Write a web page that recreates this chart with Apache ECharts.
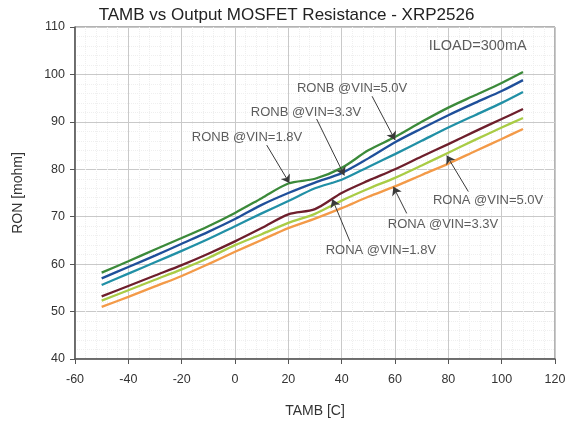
<!DOCTYPE html>
<html>
<head>
<meta charset="utf-8">
<script src="https://cdn.jsdelivr.net/npm/echarts@6/dist/echarts.min.js"></script>
<style>
  html, body { margin: 0; padding: 0; background: #fff; }
  #chart { width: 573px; height: 423px; }
</style>
</head>
<body>
<div id="chart"></div>
<script>
// temperature points (C)
var tamb = [-50, -40, -30, -20, -10, 0, 10, 20, 30, 40, 50, 60, 70, 80, 90, 100, 108];

// RON values in mohm
var ronB50 = [58.2, 60.6, 63.1, 65.5, 68.0, 70.8, 73.9, 77.0, 78.0, 80.3, 84.0, 86.8, 90.0, 93.0, 95.6, 98.2, 100.5];
var ronB33 = [57.0, 59.4, 61.8, 64.3, 66.8, 69.5, 72.5, 75.0, 77.2, 79.2, 82.3, 85.7, 88.6, 91.4, 94.0, 96.5, 98.8];
var ronB18 = [55.6, 58.0, 60.4, 62.8, 65.3, 68.0, 70.7, 73.3, 76.0, 77.8, 80.5, 83.2, 86.0, 88.8, 91.4, 94.0, 96.3];
var ronA50 = [53.2, 55.4, 57.6, 59.8, 62.2, 64.8, 67.6, 70.5, 71.6, 75.0, 77.6, 80.0, 82.7, 85.3, 88.0, 90.6, 92.7];
var ronA33 = [52.3, 54.5, 56.7, 58.9, 61.3, 64.0, 66.3, 68.7, 70.6, 73.4, 75.9, 78.2, 80.8, 83.5, 86.2, 88.8, 90.8];
var ronA18 = [51.0, 53.1, 55.3, 57.5, 60.0, 62.6, 65.1, 67.6, 69.6, 71.8, 74.2, 76.4, 78.8, 81.2, 83.8, 86.4, 88.5];

// annotation text + position, arrow start/end (data coords)
var noteText = ["RONB @VIN=5.0V", "RONB @VIN=3.3V", "RONB @VIN=1.8V", "RONA @VIN=5.0V", "RONA @VIN=3.3V", "RONA @VIN=1.8V", "ILOAD=300mA"];
var notePos = [[43.9, 97.0], [26.6, 91.9], [4.5, 86.7], [94.9, 73.4], [78.0, 68.4], [54.7, 62.8], [91.0, 106.0]];
var arrowFrom = [[51.4, 95.4], [30.6, 90.6], [11.9, 85.1], [87.5, 75.3], [64.4, 70.7], [43.1, 64.8]];
var arrowTo = [[60.0, 86.2], [41.0, 78.7], [20.4, 77.1], [79.4, 82.9], [59.4, 76.3], [36.5, 73.7]];

var seriesDefs = [
    { name: "RONB @VIN=5.0V", data: ronB50, color: "#3b8a3a" },
    { name: "RONB @VIN=3.3V", data: ronB33, color: "#1f4f9a" },
    { name: "RONB @VIN=1.8V", data: ronB18, color: "#2190a6" },
    { name: "RONA @VIN=5.0V", data: ronA50, color: "#6e1f2c" },
    { name: "RONA @VIN=3.3V", data: ronA33, color: "#a9cc45" },
    { name: "RONA @VIN=1.8V", data: ronA18, color: "#f39a48" }
];

var font = "'Liberation Sans', Arial, sans-serif";

var series = seriesDefs.map(function (s) {
    return {
        name: s.name,
        type: "line",
        smooth: 0.3,
        symbol: "none",
        data: tamb.map(function (t, i) { return [t, s.data[i]]; }),
        lineStyle: { color: s.color, width: 2.3 },
        itemStyle: { color: s.color },
        z: 3
    };
});

var noteData = notePos.map(function (p, i) { return [p[0], p[1], noteText[i]]; });
// bigger text for the load note
noteData[6] = { value: noteData[6], label: { fontSize: 14.5 } };

series.push({
    name: "notes",
    type: "scatter",
    symbolSize: 1,
    itemStyle: { color: "rgba(0,0,0,0)" },
    data: noteData,
    label: {
        show: true,
        position: "inside",
        color: "#333",
        fontFamily: font,
        fontSize: 13,
        formatter: function (p) { return p.value[2]; }
    },
    markLine: {
        silent: true,
        animation: false,
        symbol: ["none", "arrow"],
        symbolSize: 8,
        label: { show: false },
        lineStyle: { color: "#3a3a3a", width: 1, type: "solid" },
        data: arrowFrom.map(function (a, i) {
            return [{ coord: a }, { coord: arrowTo[i] }];
        })
    },
    z: 5
});

var chart = echarts.init(document.getElementById("chart"));
chart.setOption({
    animation: false,
    title: {
        text: "TAMB vs Output MOSFET Resistance - XRP2526",
        left: "center",
        top: 2,
        textStyle: { fontFamily: font, fontSize: 17, fontWeight: "normal", color: "#222" }
    },
    grid: {
        left: 75, right: 18, top: 27, bottom: 61,
        show: true, borderColor: "#666", borderWidth: 1
    },
    xAxis: {
        type: "value",
        min: -60, max: 120, interval: 20,
        name: "TAMB [C]",
        nameLocation: "middle",
        nameGap: 45,
        nameTextStyle: { fontFamily: font, fontSize: 14, color: "#333" },
        axisLine: { onZero: false, lineStyle: { color: "#555", width: 1.5 } },
        axisTick: { show: true, length: 5, lineStyle: { color: "#555" } },
        axisLabel: { fontFamily: font, fontSize: 12.5, color: "#333", margin: 14 },
        splitLine: { lineStyle: { color: "#c9c9c9" } },
        minorTick: { show: false, splitNumber: 5 },
        minorSplitLine: { show: true, lineStyle: { color: "#efefef", type: "dotted" } }
    },
    yAxis: {
        type: "value",
        min: 40, max: 110, interval: 10,
        name: "RON [mohm]",
        nameLocation: "middle",
        nameGap: 50,
        nameTextStyle: { fontFamily: font, fontSize: 14, color: "#333" },
        axisLine: { show: true, onZero: false, lineStyle: { color: "#555", width: 1.5 } },
        axisTick: { show: true, length: 5, lineStyle: { color: "#555" } },
        axisLabel: { fontFamily: font, fontSize: 12.5, color: "#333", margin: 10 },
        splitLine: { lineStyle: { color: "#c9c9c9" } },
        minorTick: { show: false, splitNumber: 5 },
        minorSplitLine: { show: true, lineStyle: { color: "#efefef", type: "dotted" } }
    },
    series: series
});
</script>
</body>
</html>
